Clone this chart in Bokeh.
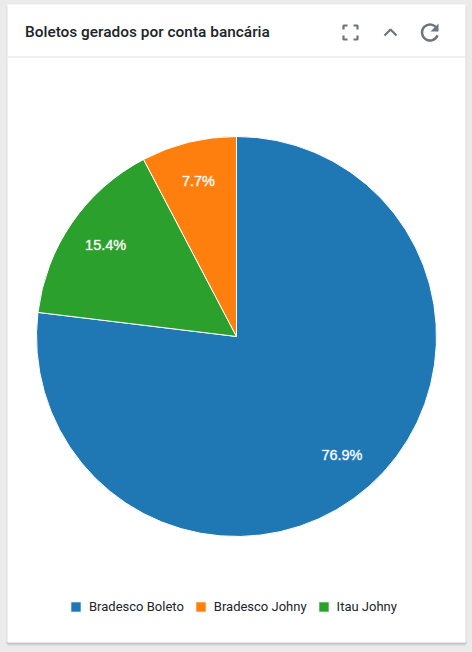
from bokeh.plotting import figure
from bokeh.models import Range1d, Legend, LegendItem
from bokeh.core.properties import value
from bokeh.embed import file_html
from bokeh.resources import INLINE
import math

TITLE = "Boletos gerados por conta bancária"
categories = ["Bradesco Boleto", "Bradesco Johny", "Itau Johny"]
values = [10, 1, 2]
colors = ["#1f77b4", "#ff7f0e", "#2ca02c"]
slice_order = [0, 2, 1]

W, H = 472, 652
CX, CY, R = 236.0, 336.0, 200.0


def px(x):
    return (x - CX) / R


def py(y):
    return (CY - y) / R


p = figure(width=W, height=H, output_backend="svg", toolbar_location=None,
           x_range=Range1d(px(0), px(W)), y_range=Range1d(py(H), py(0)),
           min_border=0, outline_line_color=None, background_fill_color="#ebebeb",
           border_fill_color="#ebebeb")
p.xaxis.visible = False
p.yaxis.visible = False
p.xgrid.visible = False
p.ygrid.visible = False


def box(x0, y0, x1, y1, color):
    p.quad(left=px(x0), right=px(x1), top=py(y0), bottom=py(y1),
           fill_color=color, line_color=None)


# card with its shadow
box(7, 641, 465, 645, "#d2d2d2")
box(6, 641, 466, 643, "#b9b9b9")
box(6, 6, 466, 642, "#dcdcdc")
box(7, 4, 465, 642, "#ffffff")
box(7, 56, 465, 57, "#e0e0e0")

p.text(x=[px(24.5)], y=[py(31)], text=[TITLE], text_font=value("Roboto Medium"),
       text_font_size="15.4px", text_color="#212529",
       text_align="left", text_baseline="middle")

# header icons
ICON = "#6c757d"
p.multi_line(xs=[[px(343), px(343), px(347)], [px(353), px(357), px(357)],
                 [px(343), px(343), px(347)], [px(353), px(357), px(357)]],
             ys=[[py(29), py(25), py(25)], [py(25), py(25), py(29)],
                 [py(35), py(39), py(39)], [py(39), py(39), py(35)]],
             line_color=ICON, line_width=2.2)
p.line(x=[px(384), px(390), px(396)], y=[py(35), py(29), py(35)],
       line_color=ICON, line_width=2.2)
p.arc(x=[px(429.5)], y=[py(32)], radius=8 / R, start_angle=math.radians(30),
      end_angle=math.radians(-20), direction="anticlock",
      line_color=ICON, line_width=2.4)
p.patch(x=[px(438), px(438), px(430)], y=[py(23), py(31), py(31)],
        fill_color=ICON, line_color=None)

# pie
total = sum(values)
angle = math.pi / 2
legend_renderers = {}
label_x, label_y, label_text = [], [], []
for i in slice_order:
    sweep = 2 * math.pi * values[i] / total
    r = p.wedge(x=[0], y=[0], radius=1, start_angle=[angle - sweep], end_angle=[angle],
                fill_color=colors[i], line_color="#ffffff", line_width=1)
    legend_renderers[i] = r
    mid = angle - sweep / 2
    label_x.append(0.795 * math.cos(mid))
    label_y.append(0.795 * math.sin(mid))
    label_text.append(f"{100 * values[i] / total:.1f}%")
    angle -= sweep

p.text(x=label_x, y=label_y, text=label_text, text_color="#ffffff",
       text_font=value("Liberation Sans"), text_font_size="14.5px",
       text_outline_color="rgba(255,255,255,0.35)", y_offset=-1,
       text_align="center", text_baseline="middle")

legend = Legend(items=[LegendItem(label=categories[i], renderers=[legend_renderers[i]])
                       for i in range(3)],
                orientation="horizontal", location=(69, 38), background_fill_alpha=0,
                border_line_color=None, label_text_font="Roboto",
                label_text_font_size="13px", label_text_color="#212529",
                glyph_width=13, glyph_height=13, spacing=10, label_standoff=7,
                padding=0, margin=0)
p.add_layout(legend)

html = file_html(p, INLINE)
html = html.replace("<head>", "<head><style>html,body{background:#ebebeb;margin:0;padding:0;overflow:hidden;}</style>", 1)
open("out.html", "w").write(html)
